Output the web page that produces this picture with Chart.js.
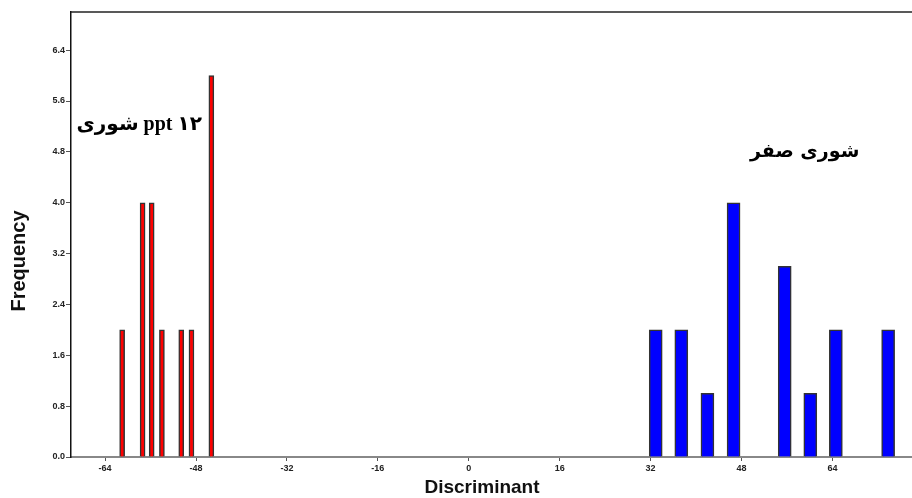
<!DOCTYPE html>
<html>
<head>
<meta charset="utf-8">
<script src="https://cdn.jsdelivr.net/npm/chart.js@4"></script>
<style>
  html, body { margin: 0; padding: 0; background: #fff; }
  #wrap { width: 912px; height: 498px; }
</style>
</head>
<body>
<div id="wrap"><canvas id="c"></canvas></div>
<script>
// discriminant scores, group "salinity 12 ppt"
var redX = [-61, -57.4, -55.8, -54, -50.6, -48.8, -45.3];
var redY = [2, 4, 4, 2, 2, 2, 6];
// group "salinity zero"
var blueX = [32.9, 37.4, 42, 46.6, 55.6, 60.1, 64.6, 73.8];
var blueY = [2, 2, 1, 4, 3, 1, 2, 2];

var xTicks = [-64, -48, -32, -16, 0, 16, 32, 48, 64];
var yTicks = [0, 0.8, 1.6, 2.4, 3.2, 4.0, 4.8, 5.6, 6.4];

var labelRed = 'شوری ppt ۱۲';
var labelBlue = 'شوری صفر';
var xTitle = 'Discriminant';
var yTitle = 'Frequency';

function pts(xs, ys) {
  var out = [];
  for (var i = 0; i < xs.length; i++) out.push({ x: xs[i], y: ys[i] });
  return out;
}

// top frame line, axis titles and the two group labels
var extras = {
  id: 'extras',
  afterDraw: function(chart) {
    var ctx = chart.ctx, a = chart.chartArea;
    var sx = chart.scales.x, sy = chart.scales.y;
    ctx.save();
    ctx.strokeStyle = '#222';
    ctx.lineWidth = 1.5;
    ctx.beginPath();
    ctx.moveTo(a.left, a.top);
    ctx.lineTo(a.right, a.top);
    ctx.stroke();

    ctx.fillStyle = '#000';
    ctx.textAlign = 'center';
    ctx.textBaseline = 'middle';
    ctx.direction = 'ltr';
    ctx.font = 'bold 20px "Liberation Serif", "DejaVu Sans"';
    ctx.fillText(labelRed, sx.getPixelForValue(-58), sy.getPixelForValue(5.22));
    ctx.font = 'bold 19px "DejaVu Sans"';
    ctx.fillText(labelBlue, sx.getPixelForValue(59.1), sy.getPixelForValue(4.8));

    ctx.fillStyle = '#111';
    ctx.font = 'bold 19px Arial, "Liberation Sans"';
    ctx.fillText(xTitle, 482, 488);
    ctx.translate(19, 261);
    ctx.rotate(-Math.PI / 2);
    ctx.font = 'bold 20px Arial, "Liberation Sans"';
    ctx.fillText(yTitle, 0, 0);
    ctx.restore();
  }
};

new Chart(document.getElementById('c'), {
  type: 'bar',
  data: {
    datasets: [{
      label: 'red',
      data: pts(redX, redY),
      backgroundColor: '#ff0000',
      borderColor: '#333',
      borderWidth: 1.5,
      barThickness: 5,
      grouped: false
    }, {
      label: 'blue',
      data: pts(blueX, blueY),
      backgroundColor: '#0000ff',
      borderColor: '#333',
      borderWidth: 1.5,
      barThickness: 13,
      grouped: false
    }]
  },
  options: {
    responsive: true,
    maintainAspectRatio: false,
    animation: false,
    layout: { padding: { top: 12, right: 0, left: 0, bottom: 0 } },
    plugins: {
      legend: { display: false },
      tooltip: { enabled: false }
    },
    scales: {
      x: {
        type: 'linear',
        min: -70,
        max: 78,
        offset: false,
        afterFit: function(s) { s.height = 41; },
        afterBuildTicks: function(s) { s.ticks = xTicks.map(function(v) { return { value: v }; }); },
        grid: { offset: false, drawOnChartArea: false, drawTicks: true, tickLength: 4, color: '#555' },
        border: { display: true, color: '#888', width: 2 },
        ticks: {
          padding: 2,
          color: '#222',
          font: { family: 'Arial, "Liberation Sans"', size: 9, weight: 'bold' },
          maxRotation: 0
        }
      },
      y: {
        min: 0,
        max: 7,
        afterFit: function(s) { s.width = 71; },
        afterBuildTicks: function(s) { s.ticks = yTicks.map(function(v) { return { value: v }; }); },
        grid: { drawOnChartArea: false, drawTicks: true, tickLength: 5, color: '#555' },
        border: { display: true, color: '#111', width: 1.5 },
        ticks: {
          padding: 1,
          color: '#222',
          font: { family: 'Arial, "Liberation Sans"', size: 9, weight: 'bold' },
          callback: function(v) { return Number(v).toFixed(1); }
        }
      }
    }
  },
  plugins: [extras]
});
</script>
</body>
</html>
